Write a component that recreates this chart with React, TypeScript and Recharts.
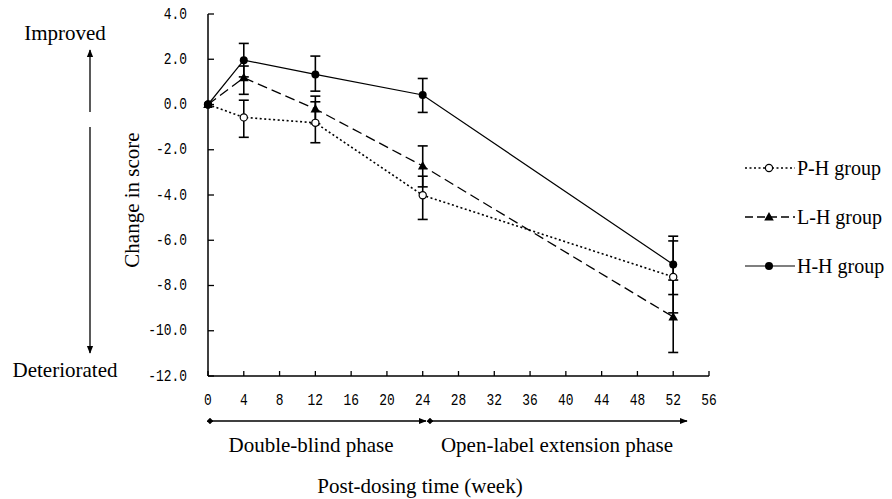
import React from 'react'
import { LineChart, Line, XAxis, YAxis, ErrorBar } from 'recharts'

// weeks after dosing
const weeks = [0, 4, 12, 24, 52]

// mean change in score per group
const phValues = [0, -0.57, -0.81, -4.01, -7.62]
const lhValues = [0, 1.18, -0.2, -2.72, -9.39]
const hhValues = [0, 1.96, 1.33, 0.42, -7.07]

// error bars as [below, above]
const phErrors = [null, [0.88, 0.76], [0.88, 0.93], [1.07, 0.84], [1.59, 1.59]]
const lhErrors = [null, [0.73, 0.52], [0.65, 0.57], [0.92, 0.89], [1.57, 1.63]]
const hhErrors = [null, [0.74, 0.74], [0.74, 0.81], [0.77, 0.73], [1.33, 1.25]]

const xTicks = [0, 4, 8, 12, 16, 20, 24, 28, 32, 36, 40, 44, 48, 52, 56]
const yTicks = [-12, -10, -8, -6, -4, -2, 0, 2, 4]

const seriesNames = ['P-H group', 'L-H group', 'H-H group']

const data = weeks.map((week, i) => ({
  week,
  ph: phValues[i],
  lh: lhValues[i],
  hh: hhValues[i],
  phErr: phErrors[i],
  lhErr: lhErrors[i],
  hhErr: hhErrors[i],
}))

const TICK_FONT = '"Liberation Mono", "DejaVu Sans Mono", monospace'

const Y_MARGIN = 21
const X_MARGIN = 24

const OpenCircle = ({ cx, cy }: any) => (
  <circle cx={cx} cy={cy} r={3.6} fill="#fff" stroke="#000" strokeWidth={1.2} />
)
const Triangle = ({ cx, cy }: any) => (
  <polygon points={`${cx},${cy - 5} ${cx - 4.8},${cy + 3.5} ${cx + 4.8},${cy + 3.5}`} fill="#000" />
)
const FilledCircle = ({ cx, cy }: any) => <circle cx={cx} cy={cy} r={4} fill="#000" />

const series = [
  { key: 'ph', err: 'phErr', name: seriesNames[0], dash: '2 2.5', width: 1.6, Dot: OpenCircle },
  { key: 'lh', err: 'lhErr', name: seriesNames[1], dash: '10 5', width: 1.3, Dot: Triangle },
  { key: 'hh', err: 'hhErr', name: seriesNames[2], dash: undefined, width: 1.2, Dot: FilledCircle },
]

// narrow gothic-looking tick digits
const TickText = ({ x, y, anchor, children }: any) => (
  <text
    transform={`translate(${x},${y}) scale(0.76,1)`}
    textAnchor={anchor}
    dominantBaseline="central"
    style={{ fontFamily: TICK_FONT }}
    fontSize={17}
    fill="#000"
  >
    {children}
  </text>
)

const YTick = ({ x, y, payload }: any) => (
  <g>
    <line x1={x + Y_MARGIN} x2={x + Y_MARGIN + 6} y1={y} y2={y} stroke="#000" strokeWidth={1.3} />
    <TickText x={x} y={y} anchor="end">
      {payload.value.toFixed(1)}
    </TickText>
  </g>
)

const XTick = ({ x, y, payload }: any) => (
  <g>
    <line x1={x} x2={x} y1={y - X_MARGIN} y2={y - X_MARGIN - 5} stroke="#000" strokeWidth={1.3} />
    <TickText x={x} y={y} anchor="middle">
      {payload.value}
    </TickText>
  </g>
)

// serif captions use the page's default font
const Label = ({ x, y, children, rotate, size = 21 }: any) => (
  <text
    x={x}
    y={y}
    textAnchor="middle"
    dominantBaseline="central"
    fontSize={size}
    fill="#000"
    transform={rotate ? `rotate(-90 ${x} ${y})` : undefined}
  >
    {children}
  </text>
)

// legend rows, top to bottom as in the figure
const LegendBox = () => (
  <g transform="translate(743, 150)">
    {series.map((s, i) => {
      const cy = 18 + i * 49
      return (
        <g key={s.key}>
          <line
            x1={2}
            x2={52}
            y1={cy}
            y2={cy}
            stroke="#000"
            strokeWidth={s.width}
            strokeDasharray={s.key === 'lh' ? '8 4' : s.dash}
          />
          <s.Dot cx={26} cy={cy} />
          <text x={54} y={cy} dominantBaseline="central" fontSize={20} fill="#000">
            {s.name}
          </text>
        </g>
      )
    })}
  </g>
)

const Annotations = () => (
  <svg width={892} height={499} style={{ position: 'absolute', left: 0, top: 0, pointerEvents: 'none' }}>
    <defs>
      <marker id="head" viewBox="0 0 10 10" refX="9" refY="5" markerWidth="6" markerHeight="6" orient="auto">
        <path d="M0,1 L10,5 L0,9 z" fill="#000" />
      </marker>
      <marker id="diamond" viewBox="0 0 10 10" refX="5" refY="5" markerWidth="5" markerHeight="5" orient="auto">
        <path d="M0,5 L5,0 L10,5 L5,10 z" fill="#000" />
      </marker>
    </defs>
    <Label x={65} y={33}>Improved</Label>
    <line x1={90} y1={112} x2={90} y2={50} stroke="#000" strokeWidth={1.3} markerEnd="url(#head)" />
    <line x1={90} y1={127} x2={90} y2={353} stroke="#000" strokeWidth={1.3} markerEnd="url(#head)" />
    <Label x={65} y={370}>Deteriorated</Label>
    <Label x={132} y={200} rotate>
      Change in score
    </Label>
    <line x1={210} y1={421} x2={426} y2={421} stroke="#000" strokeWidth={1.3} markerStart="url(#diamond)" markerEnd="url(#head)" />
    <line x1={430} y1={421} x2={687} y2={421} stroke="#000" strokeWidth={1.3} markerStart="url(#diamond)" markerEnd="url(#head)" />
    <Label x={311} y={445}>Double-blind phase</Label>
    <Label x={557} y={445}>Open-label extension phase</Label>
    <Label x={420} y={486}>Post-dosing time (week)</Label>
    <LegendBox />
  </svg>
)

export default function App() {
  return (
    <div style={{ position: 'absolute', left: 0, top: 0, width: 892, height: 499, background: '#fff' }}>
      <LineChart width={892} height={499} data={data} margin={{ top: 14, right: 183, bottom: 0, left: 0 }}>
        <XAxis
          dataKey="week"
          type="number"
          domain={[0, 56]}
          ticks={xTicks}
          interval={0}
          height={123}
          tickSize={0}
          tickMargin={X_MARGIN}
          tickLine={false}
          tick={<XTick />}
          axisLine={{ stroke: '#000', strokeWidth: 1.5 }}
        />
        <YAxis
          type="number"
          domain={[-12, 4]}
          ticks={yTicks}
          interval={0}
          width={208}
          tickSize={0}
          tickMargin={Y_MARGIN}
          tickLine={false}
          tick={<YTick />}
          axisLine={{ stroke: '#000', strokeWidth: 1.5 }}
        />
        {series.map((s) => (
          <Line
            key={s.key}
            dataKey={s.key}
            name={s.name}
            stroke="#000"
            strokeWidth={s.width}
            strokeDasharray={s.dash}
            dot={<s.Dot />}
            activeDot={false}
            isAnimationActive={false}
          >
            <ErrorBar dataKey={s.err} direction="y" width={5} stroke="#000" strokeWidth={1.6} />
          </Line>
        ))}
      </LineChart>
      <Annotations />
    </div>
  )
}
